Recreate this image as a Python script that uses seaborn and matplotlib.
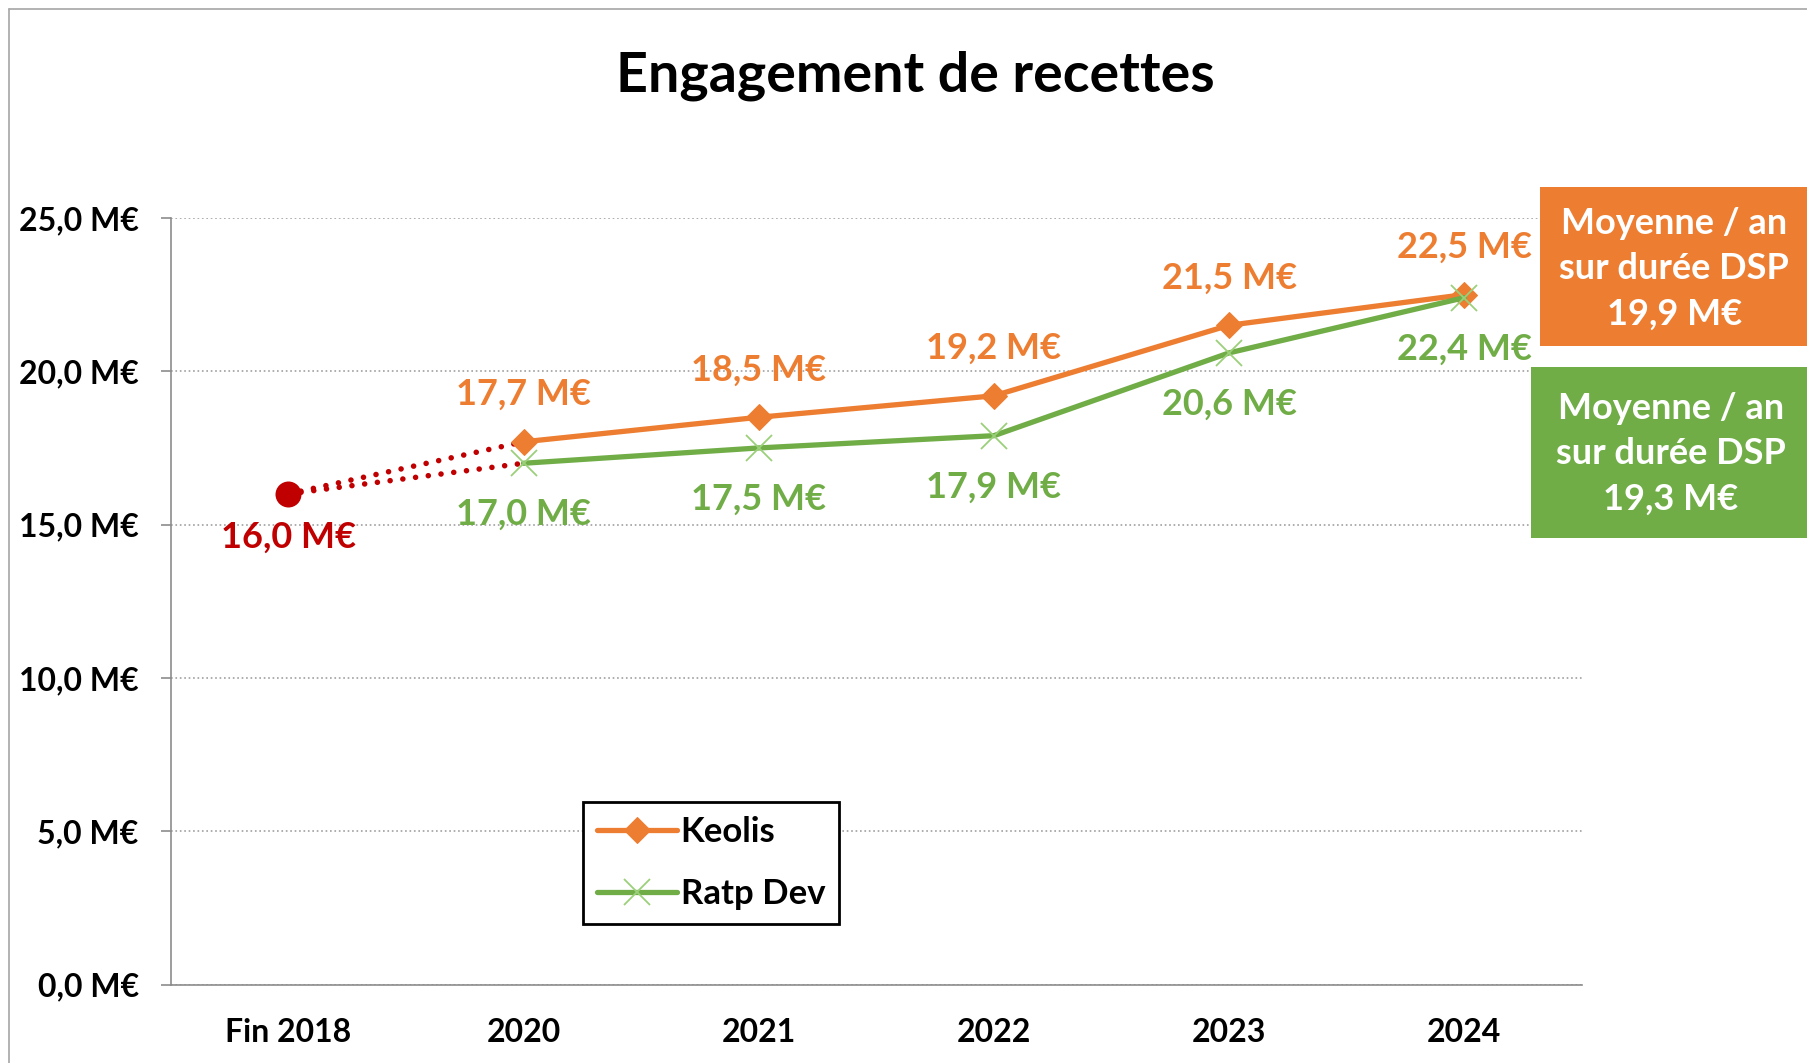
import matplotlib.pyplot as plt
import seaborn as sns
import pandas as pd
from matplotlib.patches import Rectangle
from matplotlib.lines import Line2D

# data
categories = ["Fin 2018", "2020", "2021", "2022", "2023", "2024"]
start_value = 16.0
keolis = [17.7, 18.5, 19.2, 21.5, 22.5]
ratp_dev = [17.0, 17.5, 17.9, 20.6, 22.4]
moyenne_keolis = 19.9
moyenne_ratp = 19.3
y_ticks = [0, 5, 10, 15, 20, 25]

ORANGE = "#ED7D31"
GREEN = "#70AD47"
RED = "#C00000"


def fmt(v):
    return f"{v:.1f} M€".replace(".", ",")


def main():
    sns.set_style("white")
    plt.rcParams['font.family'] = ['Lato', 'DejaVu Sans']
    plt.rcParams['text.color'] = 'black'
    plt.rcParams['xtick.color'] = 'black'
    plt.rcParams['ytick.color'] = 'black'

    fig = plt.figure(figsize=(18.08, 10.63), dpi=100)
    ax = fig.add_axes([0.0944, 0.0737, 0.7806, 0.7213])

    years = categories[1:]
    xs = [categories.index(y) for y in years]
    df = pd.DataFrame({"x": xs, "Keolis": keolis, "Ratp Dev": ratp_dev})

    # dotted link from the 2018 starting point
    for first in (keolis[0], ratp_dev[0]):
        sns.lineplot(x=[0, 1], y=[start_value, first], color=RED, linestyle=(0, (0.01, 2.3)),
                     dash_capstyle='round', linewidth=4, ax=ax, zorder=3)
    sns.scatterplot(x=[0], y=[start_value], color=RED, s=300, edgecolor=RED, ax=ax, zorder=4)

    sns.lineplot(data=df, x="x", y="Keolis", color=ORANGE, linewidth=3.8, marker="D",
                 markersize=13, markeredgecolor=ORANGE, markerfacecolor=ORANGE,
                 label="Keolis", ax=ax, zorder=5)
    sns.lineplot(data=df, x="x", y="Ratp Dev", color=GREEN, linewidth=3.8, marker="x",
                 markersize=19, markeredgecolor="#9BD07A", markeredgewidth=1.3,
                 label="Ratp Dev", ax=ax, zorder=5)

    # value labels
    lab = dict(ha='center', va='center', fontsize=26, fontweight='bold', textcoords='offset points')
    for x, v in zip(xs, keolis):
        ax.annotate(fmt(v), (x, v), xytext=(0, 34), color=ORANGE, **lab)
    for x, v in zip(xs, ratp_dev):
        ax.annotate(fmt(v), (x, v), xytext=(0, -37), color=GREEN, **lab)
    ax.annotate(fmt(start_value), (0, start_value), xytext=(0, -31), color=RED, **lab)

    # axes
    ax.set_xlim(-0.5, 5.5)
    ax.set_ylim(0, 25)
    ax.set_yticks(y_ticks)
    ax.set_yticklabels([fmt(t) for t in y_ticks], fontsize=23, fontweight='bold')
    ax.set_xticks(range(len(categories)))
    ax.set_xticklabels(categories, fontsize=23, fontweight='bold')
    ax.set_xticks([i - 0.5 for i in range(len(categories) + 1)], minor=True)
    ax.tick_params(axis='x', which='major', length=0, pad=24)
    ax.tick_params(axis='x', which='minor', length=7, width=1.2, color='#8C8C8C', direction='out')
    ax.tick_params(axis='y', length=7, width=1.2, color='#8C8C8C', direction='out', pad=16, left=True)
    ax.set_xlabel('')
    ax.set_ylabel('')
    ax.yaxis.grid(True, linestyle=':', color='#A0A0A0', linewidth=1.2)
    ax.set_axisbelow(True)
    for side in ('top', 'right'):
        ax.spines[side].set_visible(False)
    for side in ('left', 'bottom'):
        ax.spines[side].set_color('#8C8C8C')
        ax.spines[side].set_linewidth(1.2)

    leg = ax.legend(loc='lower left', bbox_to_anchor=(0.2925, 0.0797), borderaxespad=0,
                    fancybox=False, edgecolor='black', framealpha=1,
                    prop={'weight': 'bold', 'size': 25}, handlelength=2.3, handletextpad=0.1,
                    labelspacing=0.85, borderpad=0.4)
    leg.get_frame().set_linewidth(2)

    fig.text(0.506, 0.929, "Engagement de recettes", ha='center', va='center',
             fontsize=40, fontweight='bold')

    # average boxes on the right
    box = dict(ha='center', va='center', color='white', fontsize=26, fontweight='bold', linespacing=1.45)
    fig.add_artist(Rectangle((0.8518, 0.6745), 0.1482, 0.1496, transform=fig.transFigure,
                             facecolor=ORANGE, edgecolor='none'))
    fig.text(0.926, 0.747, "Moyenne / an\nsur durée DSP\n" + fmt(moyenne_keolis), **box)
    fig.add_artist(Rectangle((0.8468, 0.4939), 0.1532, 0.1609, transform=fig.transFigure,
                             facecolor=GREEN, edgecolor='none'))
    fig.text(0.924, 0.573, "Moyenne / an\nsur durée DSP\n" + fmt(moyenne_ratp), **box)

    # outer frame of the chart
    fig.add_artist(Line2D([0.005, 0.005], [0, 0.9915], transform=fig.transFigure, color='#A6A6A6', lw=1.2))
    fig.add_artist(Line2D([0.005, 1], [0.9915, 0.9915], transform=fig.transFigure, color='#A6A6A6', lw=1.2))

    fig.savefig("out.png", dpi=100)


if __name__ == '__main__':
    main()
